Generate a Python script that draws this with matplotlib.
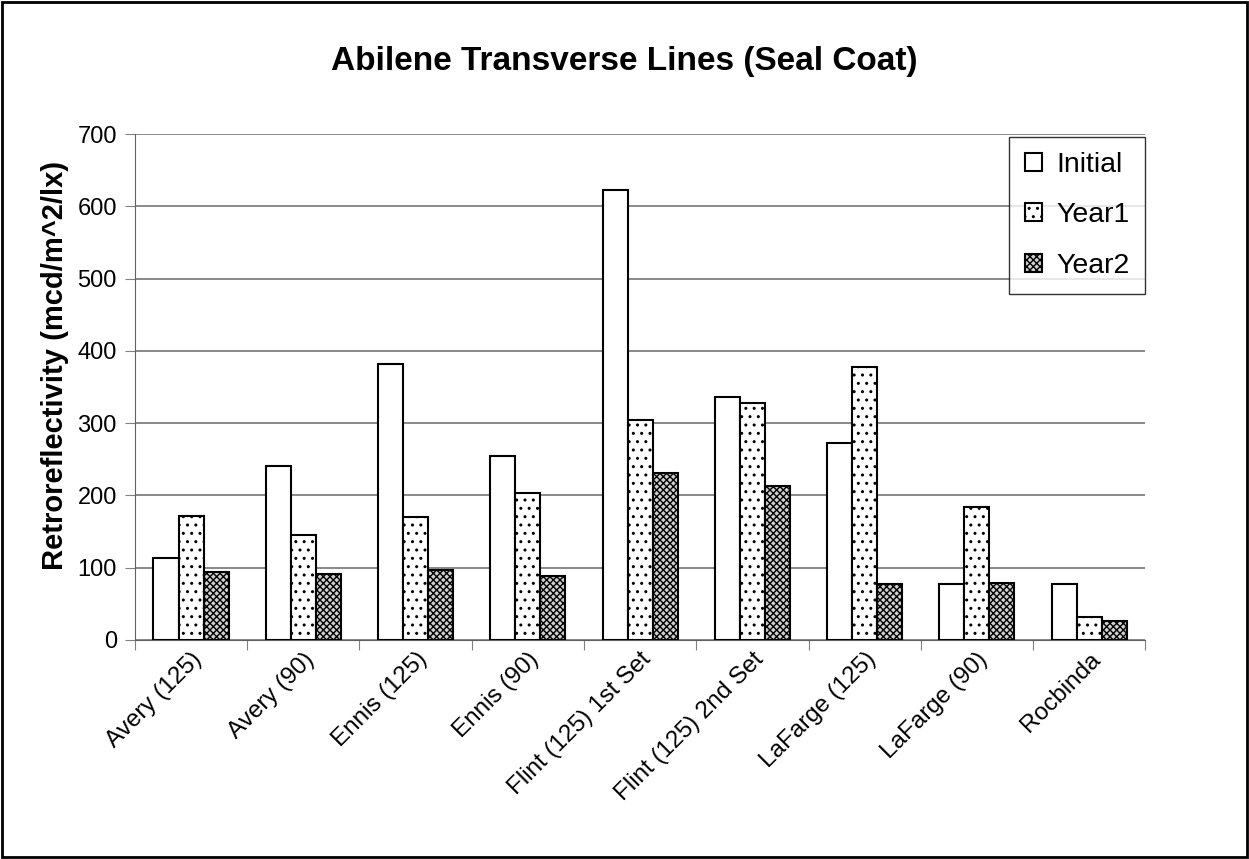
import numpy as np
import matplotlib
matplotlib.use('Agg')
import matplotlib.pyplot as plt
from matplotlib.patches import Rectangle

plt.rcParams['font.family'] = ['Liberation Sans', 'DejaVu Sans']
plt.rcParams['hatch.linewidth'] = 1.0

## categories and values
sites = ['Avery (125)', 'Avery (90)', 'Ennis (125)', 'Ennis (90)', 'Flint (125) 1st Set',
         'Flint (125) 2nd Set', 'LaFarge (125)', 'LaFarge (90)', 'Rocbinda']
initial = [113, 241, 382, 255, 622, 336, 272, 77, 78]
year1 = [171, 145, 170, 203, 305, 328, 377, 184, 32]
year2 = [94, 91, 97, 88, 231, 213, 78, 79, 26]

fig = plt.figure(figsize=(12.49, 8.59), dpi=100)
ax = fig.add_axes([0.108, 0.255, 0.809, 0.589])

# frame round the whole figure
fig.patches.append(Rectangle((0.002, 0.002), 0.996, 0.996, transform=fig.transFigure,
                             fill=False, edgecolor='black', linewidth=2))

x = np.arange(len(sites))
w = 0.223
ax.bar(x - w, initial, w, color='white', edgecolor='black', linewidth=1.5, label='Initial', zorder=3)
ax.bar(x, year1, w, color='white', edgecolor='black', linewidth=1.5, hatch='..', label='Year1', zorder=3)
ax.bar(x + w, year2, w, color='#d0d0d0', edgecolor='black', linewidth=1.5, hatch='xxxxx',
       label='Year2', zorder=3)

ax.set_xlim(-0.5, len(sites) - 0.5)
ax.set_ylim(0, 700)
ax.set_yticks(np.arange(0, 701, 100))
ax.yaxis.grid(True, color='#808080', linewidth=1.3, zorder=0)
ax.set_axisbelow(True)

# ticks sit on the boundaries between groups, labels under the groups
ax.set_xticks(np.arange(-0.5, len(sites) + 0.5, 1))
ax.set_xticklabels([])
ax.set_xticks(x, minor=True)
ax.set_xticklabels(sites, minor=True, rotation=45, ha='right', rotation_mode='anchor', fontsize=17.5)
ax.tick_params(axis='x', which='minor', length=0, pad=6)
ax.tick_params(axis='x', which='major', length=7, direction='out', color='#808080')
ax.tick_params(axis='y', length=7, direction='out', labelsize=17, color='#808080', pad=6)

for s in ['top', 'right']:
    ax.spines[s].set_visible(False)
ax.spines['left'].set_color('#606060')
ax.spines['bottom'].set_color('#606060')

ax.set_ylabel('Retroreflectivity (mcd/m^2/lx)', fontsize=21, fontweight='bold')
ax.yaxis.set_label_coords(-0.065, 0.543)
fig.suptitle('Abilene Transverse Lines (Seal Coat)', fontsize=24, fontweight='bold', y=0.947)

leg = ax.legend(loc='upper right', fontsize=20.5, frameon=True, fancybox=False, edgecolor='black',
                handlelength=0.6, handleheight=0.6, handletextpad=0.5, labelspacing=0.85,
                borderpad=0.55, borderaxespad=0.0, bbox_to_anchor=(1.0, 0.995))
leg.get_frame().set_linewidth(1.0)

plt.savefig('out.png', dpi=100)
